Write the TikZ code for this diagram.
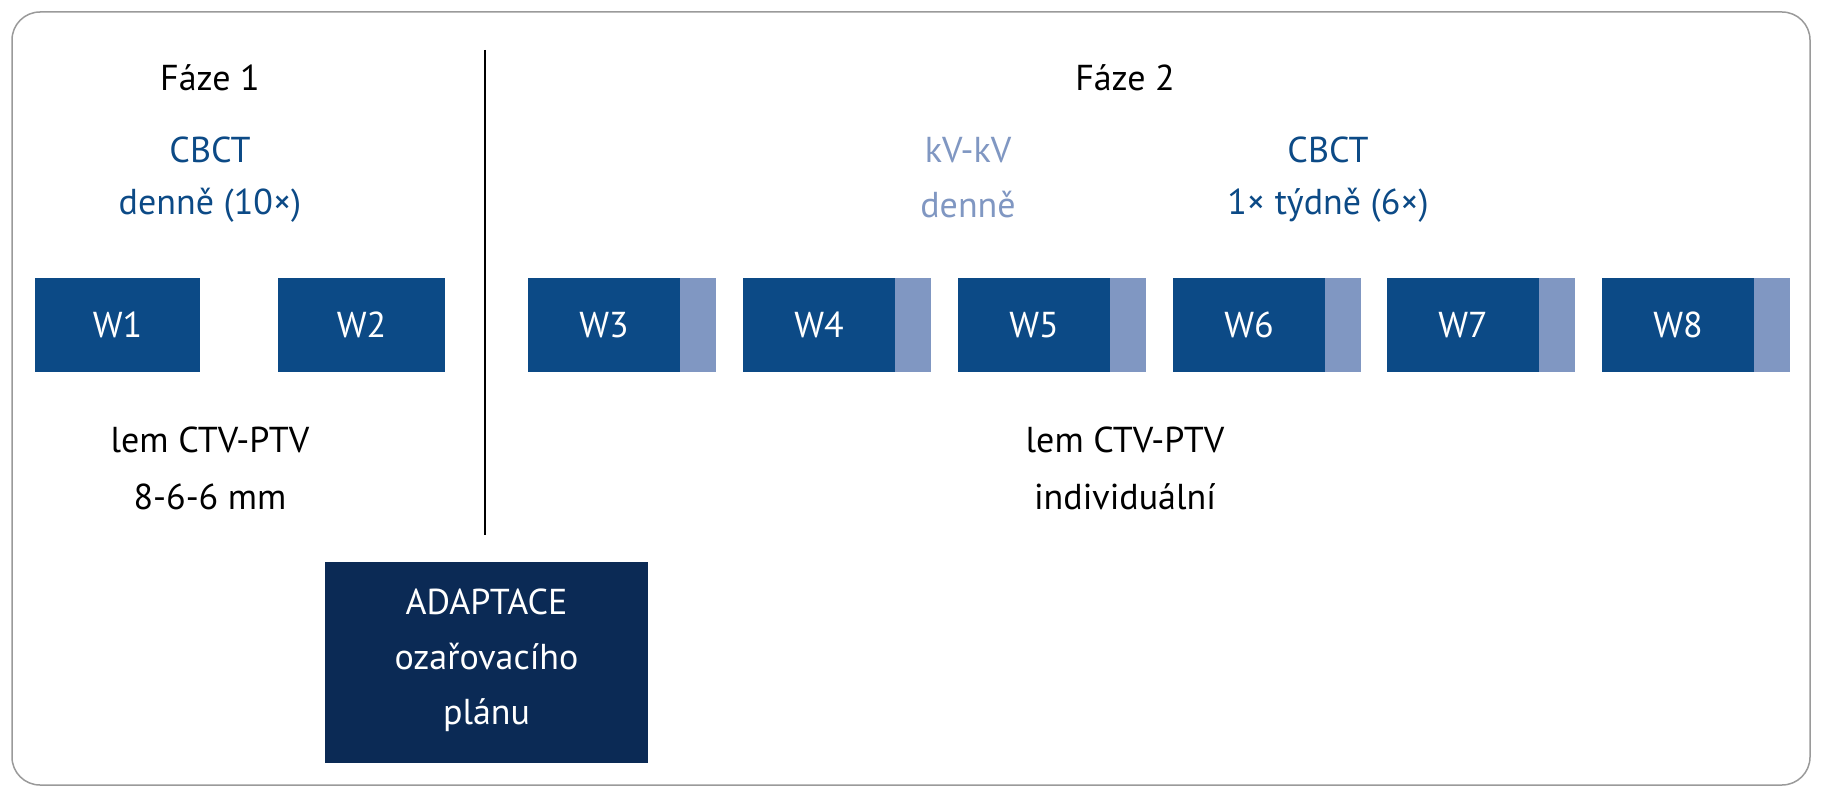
\documentclass[tikz,border=0pt]{standalone}
\usepackage{fontspec}
\setmainfont{PT Sans}
\definecolor{dk}{HTML}{0C4A86}
\definecolor{lt}{HTML}{8097C2}
\definecolor{nv}{HTML}{0B2A55}
\definecolor{fr}{HTML}{9A9A9A}
\begin{document}
\begin{tikzpicture}[x=1pt,y=-1pt,
  txt/.style={font=\fontsize{36}{40}\selectfont,inner sep=0pt,align=center},
  wb/.style={fill=dk,draw=none,minimum height=94pt,inner sep=0pt,text=white,font=\fontsize{36}{40}\selectfont}]
\useasboundingbox (0,0) rectangle (1823,800);
\draw[fr,line width=1.5pt,rounded corners=28pt] (12,12) rectangle (1810,785);
\draw[line width=1.5pt] (485,50) -- (485,535);
\node[txt] (f1) at (210,78) {Fáze 1};
\node[txt,text=dk] (c1) at (210,150) {CBCT};
\node[txt,text=dk] (d1) at (210,205) {denně (10×)};
\node[txt] (f2) at (1125,78) {Fáze 2};
\node[txt,text=lt] (kv) at (968,150) {kV-kV};
\node[txt,text=lt] (d2) at (968,205) {denně};
\node[txt,text=dk] (c2) at (1328,150) {CBCT};
\node[txt,text=dk] (t2) at (1328,205) {1× týdně (6×)};
\node[wb,minimum width=165pt] (w1) at (117.5,325) {W1};
\node[wb,minimum width=167pt] (w2) at (361.5,325) {W2};
\foreach \i/\x in {3/528,4/743,5/958,6/1173,7/1387,8/1602}{
  \fill[lt] (\x+150,278) rectangle (\x+188,372);
  \node[wb,minimum width=152pt] (w\i) at (\x+76,325) {W\i};
}
\node[txt] (l1) at (210,440) {lem CTV-PTV};
\node[txt] (m1) at (210,497) {8-6-6 mm};
\node[txt] (l2) at (1125,440) {lem CTV-PTV};
\node[txt] (m2) at (1125,497) {individuální};
\node[fill=nv,minimum width=323pt,minimum height=201pt,inner sep=0pt] (ad) at (486.5,662.5) {};
\node[txt,text=white,font=\fontsize{36}{55}\selectfont] (adt) at (486.5,660) {ADAPTACE\\ozařovacího\\plánu};
\end{tikzpicture}
\end{document}
